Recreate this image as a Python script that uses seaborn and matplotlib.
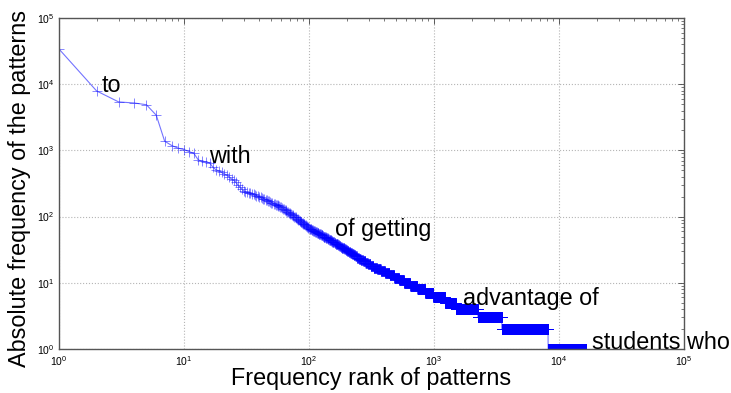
import numpy as np
import pandas as pd
import matplotlib
matplotlib.use("Agg")
import matplotlib.pyplot as plt
import seaborn as sns
from matplotlib.ticker import LogLocator, LogFormatterMathtext, NullFormatter

# Absolute frequency of the 100 most frequent patterns (ranks 1..100)
head_freq = [34000, 7900, 5400, 5200, 4900, 3400, 1380, 1180, 1080, 1030,
             960, 900, 720, 680, 670, 650, 560, 510, 490, 465,
             440, 425, 395, 370, 355, 330, 300, 280, 260, 245,
             236, 232, 228, 225, 221, 216, 212, 207, 203, 199,
             195, 191, 187, 184, 181, 178, 174, 170, 167, 163,
             160, 157, 154, 152, 150, 148, 146, 143, 141, 138,
             135, 132, 129, 126, 124, 121, 119, 117, 114, 112,
             110, 108, 106, 104, 102, 100, 98, 97, 95, 93,
             92, 90, 88, 87, 85, 84, 82, 81, 80, 78,
             77, 76, 75, 74, 73, 71, 70, 69, 68, 67]

# Remaining patterns: frequency value and how many patterns share it
tail_freq = [66, 65, 64, 63, 62, 61, 60, 59, 58, 57, 56, 55, 54, 53, 52, 51,
             50, 49, 48, 47, 46, 45, 44, 43, 42, 41, 40, 39, 38, 37, 36, 35,
             34, 33, 32, 31, 30, 29, 28, 27, 26, 25, 24, 23, 22, 21, 20, 19,
             18, 17, 16, 15, 14, 13, 12, 11, 10, 9, 8, 7, 6, 5, 4, 3, 2, 1]
tail_count = [1, 2, 1, 2, 1, 2, 2, 2, 2, 2, 2, 3, 2, 2, 2, 2,
              3, 3, 2, 3, 3, 3, 3, 3, 3, 3, 3, 4, 4, 4, 4, 4,
              4, 5, 5, 5, 6, 6, 7, 7, 7, 7, 9, 9, 11, 12, 13, 15,
              18, 22, 25, 30, 35, 40, 45, 50, 70, 90, 115, 135, 240, 270, 745, 1240, 4690, 8270]

# Annotated patterns and where their labels sit (data coordinates)
label_text = ["to", "with", "of getting", "advantage of", "students who"]
label_x = [2.2, 15.9, 160, 1720, 18500]
label_y = [7700, 650, 51, 4.7, 1.0]

freq = np.concatenate([np.asarray(head_freq, dtype=float),
                       np.repeat(tail_freq, tail_count).astype(float)])
df = pd.DataFrame({"rank": np.arange(1, len(freq) + 1), "freq": freq})

sns.set_style("white")
plt.rcParams["font.family"] = ["Liberation Sans", "DejaVu Sans"]
plt.rcParams["mathtext.fontset"] = "dejavusans"
plt.rcParams["text.color"] = "black"
plt.rcParams["axes.labelcolor"] = "black"

fig = plt.figure(figsize=(7.31, 3.93), dpi=100)
ax = fig.add_axes([59 / 731, 1 - 349 / 393, 625 / 731, 331 / 393])
ax.set_xscale("log")
ax.set_yscale("log")

sns.lineplot(data=df, x="rank", y="freq", ax=ax, estimator=None, sort=False,
             color="blue", lw=0.8, alpha=0.55, marker="+", ms=7,
             mew=0.6, mec="blue")

ax.set_xlim(1, 1e5)
ax.set_ylim(1, 1e5)

for axis in (ax.xaxis, ax.yaxis):
    axis.set_major_locator(LogLocator(base=10, numticks=10))
    axis.set_minor_locator(LogLocator(base=10, subs=np.arange(2, 10), numticks=20))
    axis.set_major_formatter(LogFormatterMathtext())
    axis.set_minor_formatter(NullFormatter())

ax.tick_params(which="both", direction="in", top=True, right=True,
               colors="#444444", labelcolor="black")
ax.tick_params(which="major", length=4, width=0.6, labelsize=7.5, pad=3.5)
ax.tick_params(which="minor", length=2, width=0.5)
for s in ax.spines.values():
    s.set_color("#555555")
    s.set_linewidth(1.0)

ax.grid(True, which="major", linestyle=":", color="#b5b5b5", lw=0.8)

ax.set_xlabel("Frequency rank of patterns", fontsize=16.8, color="black")
ax.set_ylabel("Absolute frequency of the patterns", fontsize=16.8, color="black")
ax.xaxis.set_label_coords(0.5, -0.053)
ax.yaxis.set_label_coords(-0.045, 0.485)

for t, x, y in zip(label_text, label_x, label_y):
    ax.text(x, y, t, fontsize=16.8, color="black", ha="left", va="baseline",
            clip_on=False)

fig.savefig("out.png", dpi=100)
